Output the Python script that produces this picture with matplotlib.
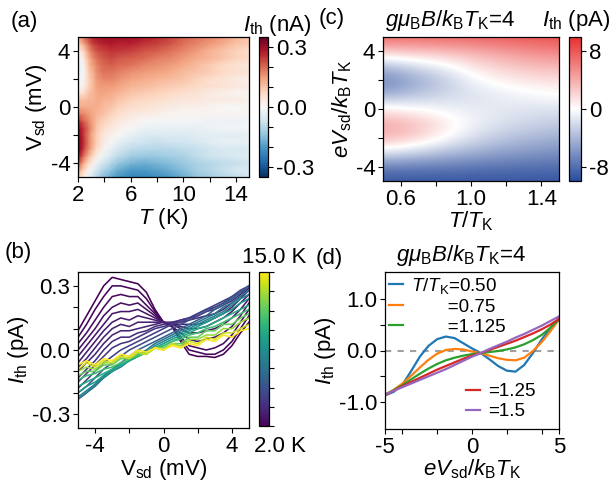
"""Thermocurrent maps and cuts: experiment (a, b) and theory (c, d)"""
import numpy as np
import matplotlib
matplotlib.use('Agg')
import matplotlib.pyplot as plt
from matplotlib.colors import LinearSegmentedColormap, Normalize
from matplotlib.cm import ScalarMappable
from matplotlib.ticker import FixedLocator, MultipleLocator

plt.rcParams['font.family'] = ['Liberation Sans', 'DejaVu Sans']
plt.rcParams['mathtext.fontset'] = 'custom'
plt.rcParams['mathtext.rm'] = 'Liberation Sans'
plt.rcParams['mathtext.it'] = 'Liberation Sans:italic'
plt.rcParams['mathtext.bf'] = 'Liberation Sans:bold'
plt.rcParams['font.size'] = 16
plt.rcParams['axes.linewidth'] = 0.9
plt.rcParams['axes.unicode_minus'] = False

# ---- experiment: I_th(T, Vsd), rows = temperature, columns = bias ----
v_exp = [-5, -4.5, -4, -3.5, -3, -2.5, -2, -1.5, -1, -0.5, 0,
         0.5, 1, 1.5, 2, 2.5, 3, 3.5, 4, 4.5, 5]
t_exp = [2.0, 2.2, 2.4, 2.6, 2.8, 3.0, 3.2, 3.4, 3.7, 4.0,
         4.5, 5.0, 6.0, 7.0, 8.0, 9.0, 10.0, 11.0, 12.0, 13.0, 14.0, 15.0]
i_exp = [
    [0.09, 0.16, 0.23, 0.30, 0.34, 0.33, 0.32, 0.31, 0.27, 0.19, 0.13, 0.11, 0.04, -0.02, -0.03, -0.03, -0.035, -0.02, 0.02, 0.08, 0.13],
    [0.06, 0.12, 0.19, 0.25, 0.30, 0.30, 0.29, 0.28, 0.24, 0.18, 0.13, 0.11, 0.05, 0.00, -0.01, -0.02, -0.02, 0.00, 0.04, 0.10, 0.16],
    [0.03, 0.08, 0.14, 0.20, 0.25, 0.26, 0.25, 0.25, 0.21, 0.17, 0.13, 0.11, 0.06, 0.02, 0.01, 0.00, 0.01, 0.03, 0.07, 0.13, 0.19],
    [0.00, 0.05, 0.10, 0.16, 0.20, 0.22, 0.21, 0.22, 0.19, 0.16, 0.13, 0.11, 0.08, 0.05, 0.04, 0.05, 0.06, 0.08, 0.11, 0.16, 0.22],
    [-0.03, 0.02, 0.07, 0.12, 0.17, 0.18, 0.18, 0.19, 0.17, 0.15, 0.13, 0.12, 0.10, 0.08, 0.08, 0.09, 0.10, 0.12, 0.15, 0.19, 0.24],
    [-0.06, -0.01, 0.04, 0.09, 0.13, 0.15, 0.14, 0.16, 0.15, 0.14, 0.13, 0.12, 0.11, 0.10, 0.10, 0.11, 0.13, 0.15, 0.18, 0.22, 0.26],
    [-0.08, -0.04, 0.01, 0.06, 0.10, 0.12, 0.11, 0.13, 0.13, 0.13, 0.13, 0.12, 0.12, 0.12, 0.12, 0.13, 0.15, 0.17, 0.20, 0.24, 0.28],
    [-0.10, -0.06, -0.02, 0.03, 0.07, 0.09, 0.09, 0.10, 0.11, 0.12, 0.13, 0.13, 0.13, 0.14, 0.15, 0.16, 0.17, 0.19, 0.22, 0.25, 0.29],
    [-0.13, -0.09, -0.05, 0.00, 0.04, 0.06, 0.06, 0.08, 0.09, 0.11, 0.12, 0.13, 0.14, 0.15, 0.16, 0.18, 0.19, 0.21, 0.23, 0.26, 0.30],
    [-0.15, -0.11, -0.07, -0.03, 0.01, 0.03, 0.04, 0.06, 0.08, 0.10, 0.11, 0.12, 0.14, 0.15, 0.17, 0.19, 0.20, 0.22, 0.24, 0.27, 0.30],
    [-0.18, -0.14, -0.10, -0.06, -0.03, 0.00, 0.02, 0.04, 0.06, 0.08, 0.10, 0.12, 0.13, 0.15, 0.17, 0.19, 0.21, 0.23, 0.25, 0.28, 0.30],
    [-0.20, -0.17, -0.13, -0.09, -0.06, -0.03, 0.00, 0.02, 0.04, 0.06, 0.08, 0.10, 0.12, 0.14, 0.16, 0.18, 0.20, 0.22, 0.25, 0.27, 0.30],
    [-0.23, -0.20, -0.16, -0.12, -0.09, -0.06, -0.03, 0.00, 0.02, 0.04, 0.06, 0.08, 0.10, 0.12, 0.14, 0.16, 0.19, 0.21, 0.24, 0.27, 0.30],
    [-0.23, -0.20, -0.17, -0.13, -0.10, -0.07, -0.05, -0.02, 0.00, 0.03, 0.05, 0.07, 0.09, 0.11, 0.13, 0.15, 0.17, 0.20, 0.22, 0.25, 0.28],
    [-0.22, -0.19, -0.16, -0.13, -0.10, -0.08, -0.05, -0.03, -0.01, 0.02, 0.04, 0.06, 0.08, 0.10, 0.12, 0.14, 0.16, 0.18, 0.21, 0.24, 0.26],
    [-0.20, -0.17, -0.15, -0.12, -0.10, -0.07, -0.05, -0.03, -0.01, 0.01, 0.03, 0.05, 0.07, 0.09, 0.11, 0.13, 0.15, 0.17, 0.19, 0.22, 0.24],
    [-0.17, -0.15, -0.13, -0.11, -0.09, -0.07, -0.05, -0.03, -0.01, 0.01, 0.02, 0.04, 0.06, 0.08, 0.10, 0.11, 0.13, 0.15, 0.17, 0.19, 0.21],
    [-0.14, -0.12, -0.11, -0.09, -0.08, -0.06, -0.04, -0.03, -0.01, 0.01, 0.02, 0.04, 0.05, 0.07, 0.08, 0.10, 0.11, 0.13, 0.15, 0.17, 0.19],
    [-0.12, -0.10, -0.10, -0.07, -0.07, -0.04, -0.04, -0.02, -0.02, 0.01, 0.01, 0.03, 0.03, 0.06, 0.06, 0.09, 0.09, 0.12, 0.12, 0.15, 0.17],
    [-0.10, -0.08, -0.09, -0.06, -0.06, -0.03, -0.04, -0.01, -0.02, 0.01, 0.00, 0.03, 0.02, 0.05, 0.05, 0.07, 0.07, 0.10, 0.10, 0.13, 0.15],
    [-0.09, -0.06, -0.08, -0.05, -0.06, -0.03, -0.04, -0.01, -0.02, 0.01, 0.00, 0.03, 0.01, 0.04, 0.03, 0.06, 0.05, 0.08, 0.08, 0.10, 0.12],
    [-0.07, -0.05, -0.07, -0.04, -0.05, -0.02, -0.03, 0.00, -0.01, 0.01, 0.00, 0.02, 0.01, 0.03, 0.02, 0.05, 0.04, 0.07, 0.06, 0.09, 0.10],
]

# ---- theory map (c): rows = eV/kTK from -5 to 5, columns = T/TK ----
t_th_map = [0.5, 0.625, 0.75, 0.875, 1.0, 1.125, 1.25, 1.375, 1.5]
v_th_map = [-5, -4, -3, -2, -1, 0, 1, 2, 3, 4, 5]
i_th_map = [
    [-9.4, -9.4, -9.4, -9.4, -9.4, -9.4, -9.4, -9.4, -9.4],
    [-7.0, -7.1, -7.2, -7.3, -7.5, -7.7, -7.8, -7.9, -8.0],
    [-1.4, -2.0, -2.8, -3.6, -4.3, -4.9, -5.4, -5.8, -6.1],
    [3.6, 2.8, 1.5, -0.2, -1.7, -2.7, -3.5, -4.0, -4.4],
    [4.2, 3.5, 2.4, 0.9, -0.5, -1.4, -2.0, -2.5, -2.9],
    [1.0, 0.4, -0.2, -0.7, -1.0, -1.2, -1.4, -1.5, -1.6],
    [-4.6, -3.7, -2.9, -2.2, -1.7, -1.2, -0.7, -0.3, 0.0],
    [-6.8, -5.5, -4.1, -2.6, -0.8, 0.3, 0.9, 1.3, 1.5],
    [-3.6, -2.5, -1.4, -0.3, 1.1, 2.1, 2.8, 3.3, 3.6],
    [2.6, 2.8, 3.0, 3.3, 3.8, 4.4, 5.0, 5.5, 5.9],
    [7.2, 7.2, 7.3, 7.4, 7.6, 7.8, 8.0, 8.2, 8.4],
]

# ---- theory cuts (d) ----
v_th = [-5, -4.5, -4, -3.5, -3, -2.5, -2, -1.5, -1, -0.5, 0,
        0.5, 1, 1.5, 2, 2.5, 3, 3.5, 4, 4.5, 5]
cut_labels = ['0.50', '0.75', '1.125', '1.25', '1.5']
cut_colors = ['#1f77b4', '#ff7f0e', '#2ca02c', '#d62728', '#9467bd']
cuts = [
    [-0.87, -0.80, -0.66, -0.40, -0.12, 0.09, 0.22, 0.27, 0.24, 0.14, 0.04, -0.05, -0.17, -0.30, -0.39, -0.41, -0.28, -0.05, 0.21, 0.43, 0.62],
    [-0.86, -0.76, -0.64, -0.49, -0.33, -0.18, -0.06, 0.01, 0.03, 0.02, -0.02, -0.05, -0.10, -0.15, -0.18, -0.19, -0.14, -0.01, 0.16, 0.37, 0.60],
    [-0.86, -0.77, -0.67, -0.56, -0.45, -0.35, -0.26, -0.19, -0.14, -0.10, -0.07, -0.05, -0.03, -0.01, 0.02, 0.06, 0.12, 0.20, 0.30, 0.44, 0.60],
    [-0.86, -0.78, -0.69, -0.61, -0.53, -0.45, -0.37, -0.30, -0.23, -0.16, -0.10, -0.05, 0.01, 0.07, 0.13, 0.19, 0.26, 0.33, 0.41, 0.50, 0.61],
    [-0.85, -0.78, -0.71, -0.64, -0.57, -0.50, -0.43, -0.36, -0.28, -0.20, -0.12, -0.05, 0.03, 0.10, 0.17, 0.25, 0.32, 0.40, 0.48, 0.57, 0.66],
]

W, H = 613, 491


def rect(x0, y0, x1, y1):
    """pixel box -> figure fraction"""
    return [x0 / W, 1 - y1 / H, (x1 - x0) / W, (y1 - y0) / H]


def style_ticks(ax):
    ax.tick_params(which='both', direction='out', width=0.8, pad=2, length=3.5)


fig = plt.figure(figsize=(W / 100, H / 100), dpi=100)

# ---------- (a) ----------
ax_a = fig.add_axes(rect(78, 37, 249, 177))
z_a = np.array(i_exp).T
mesh = ax_a.pcolormesh(t_exp, v_exp, z_a, cmap='RdBu_r', vmin=-0.35, vmax=0.35,
                       shading='gouraud', rasterized=True)
ax_a.set_xlim(2, 15)
ax_a.set_ylim(-5, 5)
ax_a.xaxis.set_major_locator(FixedLocator([2, 6, 10, 14]))
ax_a.xaxis.set_minor_locator(FixedLocator([4, 8, 12]))
ax_a.yaxis.set_major_locator(FixedLocator([-4, 0, 4]))
ax_a.yaxis.set_minor_locator(FixedLocator([-2, 2]))
ax_a.set_xlabel(r'$T$ (K)', labelpad=0)
ax_a.set_ylabel(r'V$_\mathrm{sd}$ (mV)', labelpad=1)
style_ticks(ax_a)

cax_a = fig.add_axes(rect(259, 37, 268, 177))
cb_a = fig.colorbar(mesh, cax=cax_a)
cb_a.set_ticks([-0.3, 0.0, 0.3])
cb_a.set_ticklabels(['-0.3', '0.0', '0.3'])
cb_a.ax.yaxis.set_minor_locator(FixedLocator([-0.2, -0.1, 0.1, 0.2]))
style_ticks(cb_a.ax)
fig.text(312 / W, 1 - 31 / H, r'$I_\mathrm{th}$ (nA)', ha='right', va='baseline')

# ---------- (b) ----------
ax_b = fig.add_axes(rect(78, 272, 249, 428))
norm_b = Normalize(2.0, 15.0)
for t, row in zip(t_exp, i_exp):
    ax_b.plot(v_exp, row, color=plt.cm.viridis(norm_b(t)), lw=1.15)
ax_b.set_xlim(-5, 5)
ax_b.set_ylim(-0.365, 0.365)
ax_b.xaxis.set_major_locator(FixedLocator([-4, 0, 4]))
ax_b.xaxis.set_minor_locator(FixedLocator([-2, 2]))
ax_b.yaxis.set_major_locator(FixedLocator([-0.3, 0.0, 0.3]))
ax_b.yaxis.set_minor_locator(MultipleLocator(0.1))
ax_b.set_yticklabels(['-0.3', '0.0', '0.3'])
ax_b.set_xlabel(r'V$_\mathrm{sd}$ (mV)', labelpad=0)
ax_b.set_ylabel(r'$I_\mathrm{th}$ (pA)', labelpad=1)
style_ticks(ax_b)

cax_b = fig.add_axes(rect(259, 272, 269, 426))
cb_b = fig.colorbar(ScalarMappable(norm=norm_b, cmap='viridis'), cax=cax_b)
cb_b.set_ticks(np.linspace(2, 15, 9))
cb_b.set_ticklabels([])
style_ticks(cb_b.ax)
fig.text(306 / W, 1 - 263 / H, '15.0 K', ha='right', va='baseline')
fig.text(306 / W, 1 - 452 / H, '2.0 K', ha='right', va='baseline')

# ---------- (c) ----------
cmap_c = LinearSegmentedColormap.from_list('bwr_soft', ['#2a4c9c', '#ffffff', '#e8302e'])
ax_c = fig.add_axes(rect(383, 37, 559, 181))
img = ax_c.imshow(np.array(i_th_map), origin='lower', aspect='auto', cmap=cmap_c,
                  vmin=-10, vmax=10, interpolation='bicubic',
                  extent=[0.4375, 1.5625, -5.5, 5.5])
ax_c.set_xlim(0.5, 1.5)
ax_c.set_ylim(-5, 5)
ax_c.xaxis.set_major_locator(FixedLocator([0.6, 1.0, 1.4]))
ax_c.xaxis.set_minor_locator(FixedLocator([0.8, 1.2]))
ax_c.yaxis.set_major_locator(FixedLocator([-4, 0, 4]))
ax_c.yaxis.set_minor_locator(FixedLocator([-2, 2]))
ax_c.set_xticklabels(['0.6', '1.0', '1.4'])
ax_c.set_xlabel(r'$T/T_\mathrm{K}$', labelpad=0)
ax_c.set_ylabel(r'$eV_\mathrm{sd}/k_\mathrm{B}T_\mathrm{K}$', labelpad=1)
style_ticks(ax_c)
fig.text(450 / W, 1 - 26 / H, r'$g\mu_\mathrm{B}B/k_\mathrm{B}T_\mathrm{K}$=4', ha='center', va='baseline')

cax_c = fig.add_axes(rect(569, 37, 581, 181))
cb_c = fig.colorbar(img, cax=cax_c)
cb_c.set_ticks([-8, 0, 8])
style_ticks(cb_c.ax)
fig.text(611 / W, 1 - 26 / H, r'$I_\mathrm{th}$ (pA)', ha='right', va='baseline')

# ---------- (d) ----------
ax_d = fig.add_axes(rect(385, 272, 559, 429))
ax_d.axhline(0, color='#a0a0a0', lw=1.5, ls=(0, (3, 3)))
lines = []
for row, col in zip(cuts, cut_colors):
    ln, = ax_d.plot(v_th, row, color=col, lw=1.6)
    lines.append(ln)
ax_d.set_xlim(-5, 5)
ax_d.set_ylim(-1.52, 1.52)
ax_d.xaxis.set_major_locator(FixedLocator([-5, 0, 5]))
ax_d.xaxis.set_minor_locator(FixedLocator([-4, -2, 2, 4]))
ax_d.yaxis.set_major_locator(FixedLocator([-1.0, 0.0, 1.0]))
ax_d.yaxis.set_minor_locator(FixedLocator([-0.5, 0.5]))
ax_d.set_yticklabels(['-1.0', '0.0', '1.0'])
ax_d.set_xlabel(r'$eV_\mathrm{sd}/k_\mathrm{B}T_\mathrm{K}$', labelpad=0)
ax_d.set_ylabel(r'$I_\mathrm{th}$ (pA)', labelpad=1)
style_ticks(ax_d)
fig.text(461 / W, 1 - 261 / H, r'$g\mu_\mathrm{B}B/k_\mathrm{B}T_\mathrm{K}$=4', ha='center', va='baseline')

pad_sp = ' ' * 7
labels_top = [r'$T/T_\mathrm{K}$=' + cut_labels[0], pad_sp + '=' + cut_labels[1],
              pad_sp + '=' + cut_labels[2]]
leg1 = ax_d.legend(lines[:3], labels_top, loc='upper left', frameon=False, fontsize=13.5,
                   handlelength=0.75, handletextpad=0.45, labelspacing=0.15,
                   borderaxespad=0.1, borderpad=0.1)
ax_d.add_artist(leg1)
ax_d.legend(lines[3:], ['=' + cut_labels[3], '=' + cut_labels[4]], loc='lower left',
            bbox_to_anchor=(0.46, 0.05), frameon=False, fontsize=13.5,
            handlelength=0.75, handletextpad=0.45, labelspacing=0.15,
            borderaxespad=0.0, borderpad=0.05)

# panel letters
fig.text(11 / W, 1 - 27 / H, '(a)', va='baseline')
fig.text(319 / W, 1 - 24 / H, '(c)', va='baseline')
fig.text(5 / W, 1 - 258 / H, '(b)', va='baseline')
fig.text(316 / W, 1 - 264 / H, '(d)', va='baseline')

fig.savefig('out.png', dpi=100)
